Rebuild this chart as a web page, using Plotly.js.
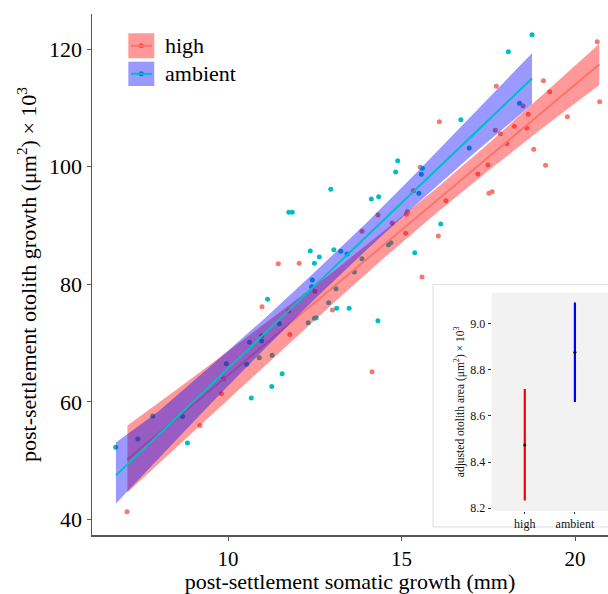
<!DOCTYPE html>
<html><head><meta charset="utf-8">
<script src="https://cdn.plot.ly/plotly-3.0.1.min.js"></script>
<style>html,body{margin:0;padding:0;background:#fff}#chart{width:608px;height:594px}</style>
</head><body><div id="chart"></div>
<script>
// ---- data ----
const groups = ['high', 'ambient'];
const highX = [7.09, 9.19, 9.81, 9.87, 11.45, 10.98, 11.78, 12.05, 14.32, 14.73, 13.86, 12.50, 13.01, 11.75, 14.15,
  15.54, 15.34, 15.17, 15.14, 15.12, 16.28, 17.20, 17.49, 17.52, 17.61, 16.06, 15.59, 20.64, 19.09, 17.73, 19.27,
  20.71, 19.78, 18.50, 18.65, 18.25, 18.61, 17.70, 17.85, 16.09, 18.04, 18.81, 19.15];
const highY = [41.3, 56.0, 61.4, 63.95, 83.5, 76.2, 71.45, 83.57, 91.8, 90.43, 89.0, 78.8, 75.63, 75.46, 65.14,
  99.9, 95.92, 92.35, 91.9, 88.67, 94.22, 98.76, 100.3, 95.47, 95.75, 88.21, 81.24, 121.26, 114.63, 113.7, 112.76,
  111.05, 108.5, 110.32, 108.9, 106.87, 106.58, 106.19, 105.61, 107.65, 103.91, 102.96, 100.24];
const ambientX = [6.76, 7.83, 7.40, 8.69, 8.83, 10.67, 11.26, 11.75, 11.85, 11.14, 11.48, 10.62, 10.97, 10.97, 10.90,
  11.27, 9.95, 10.54, 11.56, 12.96, 14.13, 14.34, 14.89, 14.83, 14.62, 14.69, 12.37, 12.63, 12.49, 13.05, 13.25,
  13.43, 13.86, 13.64, 12.43, 12.41, 13.11, 12.90, 13.13, 13.49, 14.32, 12.31, 12.49, 12.54, 15.57, 15.60, 15.50,
  16.13, 15.38, 18.76, 18.08, 18.40, 16.71, 16.95];
const ambientY = [52.3, 57.6, 53.7, 57.5, 53.0, 60.66, 62.6, 92.24, 92.24, 77.45, 73.3, 70.13, 70.36, 71.26, 67.52,
  67.92, 66.5, 66.39, 64.8, 96.16, 94.5, 94.9, 101.0, 99.1, 86.73, 87.07, 85.66, 84.64, 83.57, 85.89, 85.61,
  85.15, 84.35, 82.09, 80.73, 79.59, 79.25, 76.87, 75.92, 75.92, 73.81, 73.47, 74.22, 74.32, 98.7, 99.73, 95.47,
  90.26, 85.37, 122.45, 119.56, 110.78, 107.99, 103.18];

const highFitX = [7.1, 20.7];
const highFitY = [50.2, 117.4];
const ambientFitX = [6.77, 18.76];
const ambientFitY = [47.5, 115.0];

const highBandX = [7.1, 8.5, 10, 11.5, 13, 14.5, 16, 17.5, 19, 20.7];
const highBandUpper = [56.0, 62.0, 68.6, 75.3, 82.0, 89.1, 96.3, 103.9, 111.8, 120.9];
const highBandLower = [44.6, 52.2, 60.4, 68.5, 76.6, 84.5, 92.1, 99.3, 106.3, 113.9];
const ambientBandX = [6.77, 8.0, 9.5, 11.0, 12.5, 14.0, 15.5, 17.0, 18.76];
const ambientBandUpper = [53.1, 58.4, 66.1, 73.9, 82.1, 90.5, 99.4, 108.5, 119.3];
const ambientBandLower = [42.7, 50.4, 59.7, 68.7, 77.5, 85.9, 94.0, 101.8, 110.6];

const insetCats = ['high', 'ambient'];
const insetMean = [8.474, 8.876];
const insetLow = [8.233, 8.660];
const insetHigh = [8.717, 9.091];

const xTicks = [10, 15, 20];
const yTicks = [40, 60, 80, 100, 120];
const insetTicks = [8.2, 8.4, 8.6, 8.8, 9.0];
const insetTickText = ['8.2', '8.4', '8.6', '8.8', '9.0'];

// ---- styles ----
const FONT = 'Liberation Serif, Times New Roman, serif';
const highCol = '#F8766D', ambCol = '#00BFC4';
const highFill = 'rgba(255,0,0,0.4)', ambFill = 'rgba(0,0,255,0.4)';

function band(xs, up, lo) {
  return { x: xs.concat(xs.slice().reverse()), y: up.concat(lo.slice().reverse()) };
}
const hb = band(highBandX, highBandUpper, highBandLower);
const ab = band(ambientBandX, ambientBandUpper, ambientBandLower);

const traces = [
  { x: highX, y: highY, type: 'scatter', mode: 'markers', marker: { color: highCol, size: 5 }, name: groups[0], showlegend: false, hoverinfo: 'skip' },
  { x: ambientX, y: ambientY, type: 'scatter', mode: 'markers', marker: { color: ambCol, size: 5 }, name: groups[1], showlegend: false, hoverinfo: 'skip' },
  { x: hb.x, y: hb.y, type: 'scatter', mode: 'lines', fill: 'toself', fillcolor: highFill, line: { width: 0 }, showlegend: false, hoverinfo: 'skip' },
  { x: highFitX, y: highFitY, type: 'scatter', mode: 'lines', line: { color: highCol, width: 2 }, showlegend: false, hoverinfo: 'skip' },
  { x: ab.x, y: ab.y, type: 'scatter', mode: 'lines', fill: 'toself', fillcolor: ambFill, line: { width: 0 }, showlegend: false, hoverinfo: 'skip' },
  { x: ambientFitX, y: ambientFitY, type: 'scatter', mode: 'lines', line: { color: ambCol, width: 2 }, showlegend: false, hoverinfo: 'skip' },
  { x: [insetCats[0]], y: [insetMean[0]], xaxis: 'x2', yaxis: 'y2', type: 'scatter', mode: 'markers',
    marker: { color: '#000', size: 3 }, showlegend: false, hoverinfo: 'skip',
    error_y: { type: 'data', symmetric: false, array: [insetHigh[0] - insetMean[0]], arrayminus: [insetMean[0] - insetLow[0]], color: '#FF0000', thickness: 2.2, width: 0 } },
  { x: [insetCats[1]], y: [insetMean[1]], xaxis: 'x2', yaxis: 'y2', type: 'scatter', mode: 'markers',
    marker: { color: '#000', size: 3 }, showlegend: false, hoverinfo: 'skip',
    error_y: { type: 'data', symmetric: false, array: [insetHigh[1] - insetMean[1]], arrayminus: [insetMean[1] - insetLow[1]], color: '#0000FF', thickness: 2.2, width: 0 } }
];

// legend helpers (paper coords)
function legendKey(yTop, yBot, cy, fill, lineCol, dotCol) {
  return [
    { type: 'circle', xref: 'paper', yref: 'paper', xsizemode: 'pixel', ysizemode: 'pixel', xanchor: 0.0955, yanchor: cy,
      x0: -2.5, x1: 2.5, y0: -2.5, y1: 2.5, fillcolor: dotCol, line: { width: 0 }, layer: 'above' },
    { type: 'rect', xref: 'paper', yref: 'paper', x0: 0.0704, x1: 0.1207, y0: yBot, y1: yTop, fillcolor: fill, line: { width: 0 }, layer: 'above' },
    { type: 'line', xref: 'paper', yref: 'paper', x0: 0.0756, x1: 0.1163, y0: cy, y1: cy, line: { color: lineCol, width: 2 }, layer: 'above' }
  ];
}

const shapes = [
  { type: 'rect', xref: 'paper', yref: 'paper', x0: 0.6609, x1: 1.03, y0: 0.0154, y1: 0.4808, fillcolor: '#FFFFFF', line: { color: '#DDDDDD', width: 1 }, layer: 'below' },
  { type: 'rect', xref: 'x2 domain', yref: 'y2 domain', x0: 0, x1: 1, y0: 0, y1: 1, fillcolor: '#F2F2F2', line: { width: 0 }, layer: 'below' }
].concat(legendKey(0.9630, 0.9150, 0.9390, highFill, highCol, highCol))
 .concat(legendKey(0.9085, 0.8618, 0.8851, ambFill, ambCol, ambCol));

const layout = {
  width: 608, height: 594,
  margin: { l: 92, r: 0, t: 14, b: 59 },
  paper_bgcolor: '#FFFFFF', plot_bgcolor: 'rgba(0,0,0,0)',
  font: { family: FONT, color: '#000' },
  showlegend: false,
  xaxis: {
    domain: [0, 1], range: [6.08, 20.95], tickvals: xTicks, ticktext: xTicks.map(String),
    ticks: 'outside', ticklen: 4, tickwidth: 1, tickcolor: '#555', showline: true, linecolor: '#555', linewidth: 1.5,
    showgrid: false, zeroline: false, tickfont: { size: 21, family: FONT, color: '#000' },
    title: { text: 'post-settlement somatic growth (mm)', font: { size: 22, family: FONT, color: '#000' }, standoff: 5 }
  },
  yaxis: {
    domain: [0, 1], range: [37.36, 125.97], tickvals: yTicks, ticktext: yTicks.map(String),
    ticks: 'outside', ticklen: 4, tickwidth: 1, tickcolor: '#555', showline: true, linecolor: '#555', linewidth: 1.5,
    showgrid: false, zeroline: false, tickfont: { size: 22, family: FONT, color: '#000' },
    title: { text: 'post-settlement otolith growth (μm<sup>2</sup>) × 10<sup>3</sup>', font: { size: 22, family: FONT, color: '#000' }, standoff: 6 }
  },
  xaxis2: {
    domain: [0.7746, 1.0], anchor: 'y2', type: 'category', categoryorder: 'array', categoryarray: insetCats,
    range: [-0.66, 1.66], ticks: 'outside', ticklen: 2, tickcolor: '#333', showline: false, showgrid: false, zeroline: false,
    tickfont: { size: 12, family: FONT, color: '#111' }
  },
  yaxis2: {
    domain: [0.0461, 0.4651], anchor: 'x2', range: [8.188, 9.134], tickvals: insetTicks, ticktext: insetTickText,
    ticks: 'outside', ticklen: 3, tickcolor: '#333', showline: false, showgrid: false, zeroline: false,
    tickfont: { size: 12, family: FONT, color: '#111' },
    title: { text: 'adjusted otolith area (μm<sup>2</sup>) × 10<sup>3</sup>', font: { size: 11.5, family: FONT, color: '#111' }, standoff: 3 }
  },
  shapes: shapes,
  annotations: [
    { xref: 'paper', yref: 'paper', x: 0.1376, y: 0.9390, xanchor: 'left', yanchor: 'middle', text: 'high', showarrow: false, font: { size: 22, family: FONT, color: '#000' } },
    { xref: 'paper', yref: 'paper', x: 0.1376, y: 0.8851, xanchor: 'left', yanchor: 'middle', text: 'ambient', showarrow: false, font: { size: 22, family: FONT, color: '#000' } }
  ]
};

Plotly.newPlot('chart', traces, layout, { staticPlot: true, displayModeBar: false });
</script>
</body></html>
